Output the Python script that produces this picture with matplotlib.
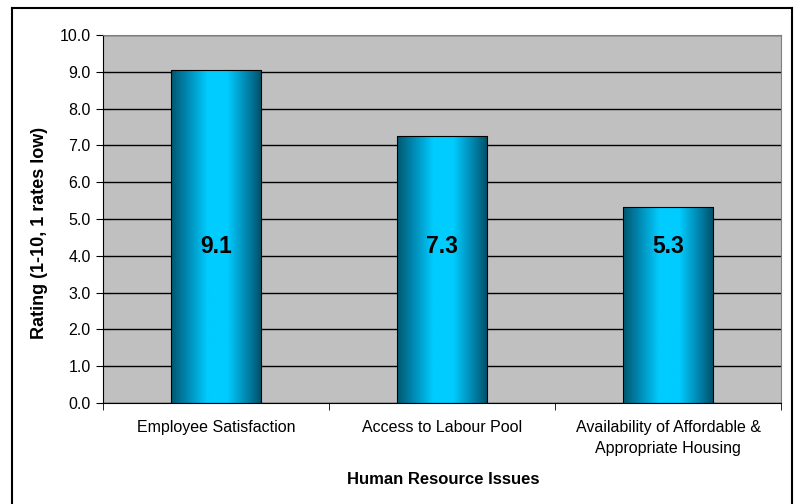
import numpy as np
import matplotlib
matplotlib.use('Agg')
import matplotlib.pyplot as plt
from matplotlib.colors import LinearSegmentedColormap
from matplotlib.lines import Line2D

plt.rcParams['font.family'] = ['Liberation Sans', 'DejaVu Sans']

categories = ['Employee Satisfaction', 'Access to Labour Pool',
              'Availability of Affordable &\nAppropriate Housing']
ratings = [9.05, 7.26, 5.32]
rating_labels = ['9.1', '7.3', '5.3']

W, H = 794, 504
fig = plt.figure(figsize=(7.94, 5.04), dpi=100)
ax = fig.add_axes([103 / W, 1 - 403 / H, 678 / W, 368 / H])
ax.set_facecolor('#C0C0C0')

# cylinder-like shading for the bars
cmap = LinearSegmentedColormap.from_list('cyl', [
    (0.0, '#005870'), (0.15, '#0080A8'), (0.4, '#00CCFF'),
    (0.62, '#00CCFF'), (0.85, '#0080A8'), (1.0, '#004F66')])
grad = np.linspace(0, 1, 256).reshape(1, -1)

x = np.arange(len(categories))
width = 0.4
bars = ax.bar(x, ratings, width=width, color='none', edgecolor='black',
              linewidth=0.8, zorder=3)
for b in bars:
    im = ax.imshow(grad, cmap=cmap, aspect='auto', zorder=2.5,
                   extent=[b.get_x(), b.get_x() + b.get_width(), 0, b.get_height()])
    im.set_clip_path(b)

for xi, lab in zip(x, rating_labels):
    ax.text(xi, 4.25, lab, ha='center', va='center', fontsize=16.5,
            fontweight='bold', zorder=4)

ax.set_xlim(-0.5, len(categories) - 0.5)
ax.set_ylim(0, 10)
ax.set_yticks(np.arange(0, 10.1, 1))
ax.set_yticklabels(['%.1f' % v for v in np.arange(0, 10.1, 1)], fontsize=11.5)
ax.yaxis.grid(True, color='black', linewidth=1)
ax.set_axisbelow(True)

ax.set_xticks(x)
ax.set_xticklabels(categories, fontsize=11.5, linespacing=1.55)
ax.tick_params(axis='x', length=0, pad=12)
ax.set_xticks(np.arange(-0.5, len(categories), 1), minor=True)
ax.tick_params(axis='x', which='minor', length=5, direction='out')
ax.tick_params(axis='y', length=5, direction='out', pad=4)

ax.spines['top'].set_color('#808080')
ax.spines['right'].set_color('#808080')
ax.spines['left'].set_color('black')
ax.spines['bottom'].set_color('black')

fig.text(40 / W, 1 - 233 / H, 'Rating (1-10, 1 rates low)', rotation=90,
         ha='center', va='center', fontsize=13, fontweight='bold')
fig.text(443 / W, 1 - 479 / H, 'Human Resource Issues',
         ha='center', va='center', fontsize=12, fontweight='bold')

# outer chart border (left, top, right)
for xs, ys in [([12, 12], [8, 504]), ([12, 792], [8, 8]), ([792, 792], [8, 504])]:
    fig.add_artist(Line2D([v / W for v in xs], [1 - v / H for v in ys],
                          color='black', linewidth=1.5, transform=fig.transFigure))

fig.savefig('out.png', dpi=100)
